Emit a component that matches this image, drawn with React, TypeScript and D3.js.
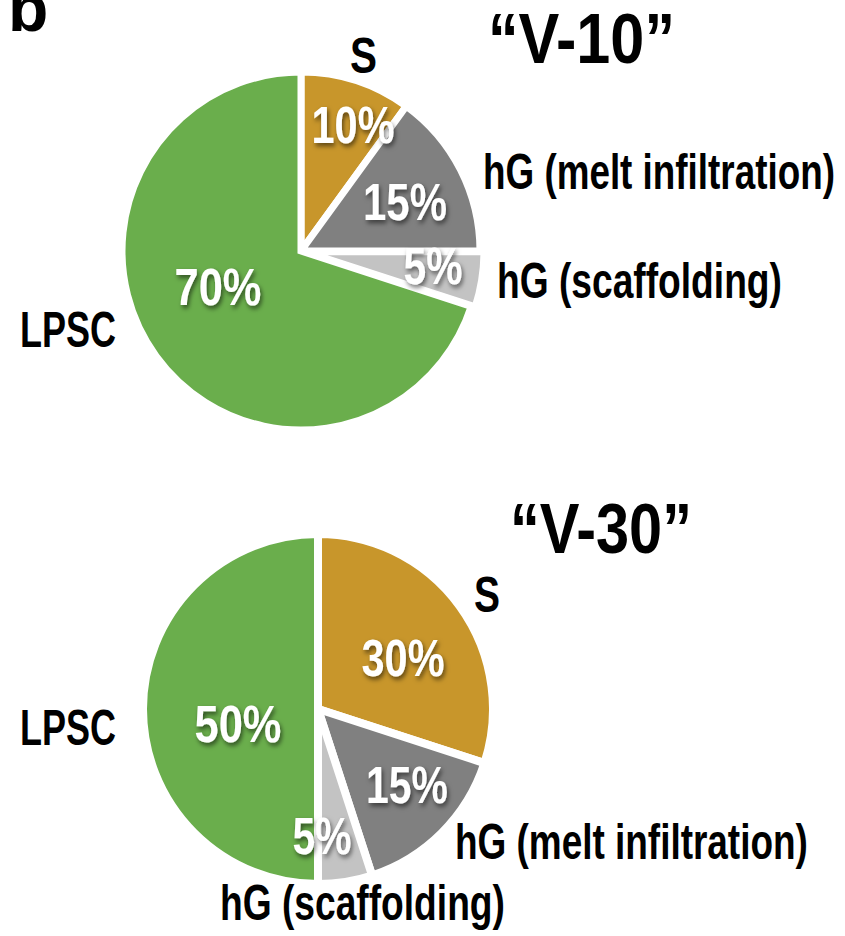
import React from "react";
import * as d3 from "d3";

const categories = ["S", "hG (melt infiltration)", "hG (scaffolding)", "LPSC"];
const v10Values = [10, 15, 5, 70];
const v30Values = [30, 15, 5, 50];
const sliceColors = ["#c8962b", "#808080", "#c3c3c3", "#6aae4c"];
const titles = ["\u201cV-10\u201d", "\u201cV-30\u201d"];

const W = 845;
const H = 936;

// layout (positions only)
const pies = [
  {
    cx: 301, cy: 251, r: 179, stroke: 7, explode: [0, 0, 4, 0],
    title: { x: 488, y: 63, w: 187 },
    cat: [
      { x: 350, y: 73, w: 27 },
      { x: 483, y: 189, w: 352 },
      { x: 497, y: 298, w: 285 },
      { x: 20, y: 347, w: 96 },
    ],
    pct: [
      { x: 353, y: 143, w: 83 },
      { x: 405, y: 220, w: 84 },
      { x: 433, y: 284, w: 59 },
      { x: 218, y: 305, w: 87 },
    ],
  },
  {
    cx: 318, cy: 709, r: 175, stroke: 8, explode: [0, 0, 0, 0],
    title: { x: 510, y: 553, w: 182 },
    cat: [
      { x: 474, y: 612, w: 26 },
      { x: 455, y: 859, w: 353 },
      { x: 220, y: 920, w: 285 },
      { x: 20, y: 745, w: 96 },
    ],
    pct: [
      { x: 403, y: 676, w: 83 },
      { x: 407, y: 803, w: 82 },
      { x: 322, y: 854, w: 59 },
      { x: 238, y: 742, w: 87 },
    ],
  },
];

const FONT = "'Liberation Sans', Arial, Helvetica, sans-serif";

let measureCtx: CanvasRenderingContext2D | null = null;
function measure(text: string, size: number): number {
  if (!measureCtx) measureCtx = document.createElement("canvas").getContext("2d");
  if (!measureCtx) return text.length * size * 0.6;
  measureCtx.font = `bold ${size}px ${FONT}`;
  return measureCtx.measureText(text).width;
}

function FitText({
  text, x, y, w, size, fill, anchor = "start", filter,
}: {
  text: string; x: number; y: number; w: number; size: number; fill: string; anchor?: string; filter?: string;
}) {
  const natural = measure(text, size);
  const k = natural > 0 ? w / natural : 1;
  return (
    <g transform={`translate(${x},${y}) scale(${k},1)`} filter={filter}>
      <text
        x={0}
        y={0}
        textAnchor={anchor as any}
        fontFamily={FONT}
        fontWeight="bold"
        fontSize={size}
        fill={fill}
      >
        {text}
      </text>
    </g>
  );
}

function Pie({ values, layout, title }: { values: number[]; layout: any; title: string }) {
  const pie = d3.pie<number>().sort(null).value((d) => d).startAngle(0).endAngle(2 * Math.PI);
  const arc = d3.arc<d3.PieArcDatum<number>>().innerRadius(0).outerRadius(layout.r);
  const arcs = pie(values);
  return (
    <g>
      <g transform={`translate(${layout.cx},${layout.cy})`}>
        {arcs.map((a, i) => {
          const mid = (a.startAngle + a.endAngle) / 2;
          const e = layout.explode[i];
          const dx = Math.sin(mid) * e;
          const dy = -Math.cos(mid) * e;
          return (
            <path
              key={i}
              d={arc(a) || ""}
              transform={`translate(${dx},${dy})`}
              fill={sliceColors[i]}
              stroke="#ffffff"
              strokeWidth={layout.stroke}
              strokeLinejoin="miter"
            />
          );
        })}
      </g>
      {arcs.map((a, i) => (
        <FitText
          key={"p" + i}
          text={`${a.data}%`}
          x={layout.pct[i].x}
          y={layout.pct[i].y}
          w={layout.pct[i].w}
          size={51}
          fill="#ffffff"
          anchor="middle"
          filter="url(#txtShadow)"
        />
      ))}
      {categories.map((c, i) => (
        <FitText
          key={"c" + i}
          text={c}
          x={layout.cat[i].x}
          y={layout.cat[i].y}
          w={layout.cat[i].w}
          size={50}
          fill="#000000"
        />
      ))}
      <FitText text={title} x={layout.title.x} y={layout.title.y} w={layout.title.w} size={71} fill="#000000" />
    </g>
  );
}

export default function App() {
  return (
    <svg
      width={W}
      height={H}
      viewBox={`0 0 ${W} ${H}`}
      style={{ position: "absolute", left: 0, top: 0, background: "#ffffff" }}
    >
      <defs>
        <filter id="txtShadow" x="-30%" y="-30%" width="170%" height="170%">
          <feDropShadow dx="2" dy="3" stdDeviation="2.5" floodColor="#000000" floodOpacity="0.55" />
        </filter>
      </defs>
      <rect x={0} y={0} width={W} height={H} fill="#ffffff" />
      <text x={8} y={31} fontFamily={FONT} fontWeight="bold" fontSize={66} fill="#000000">
        b
      </text>
      <Pie values={v10Values} layout={pies[0]} title={titles[0]} />
      <Pie values={v30Values} layout={pies[1]} title={titles[1]} />
    </svg>
  );
}
